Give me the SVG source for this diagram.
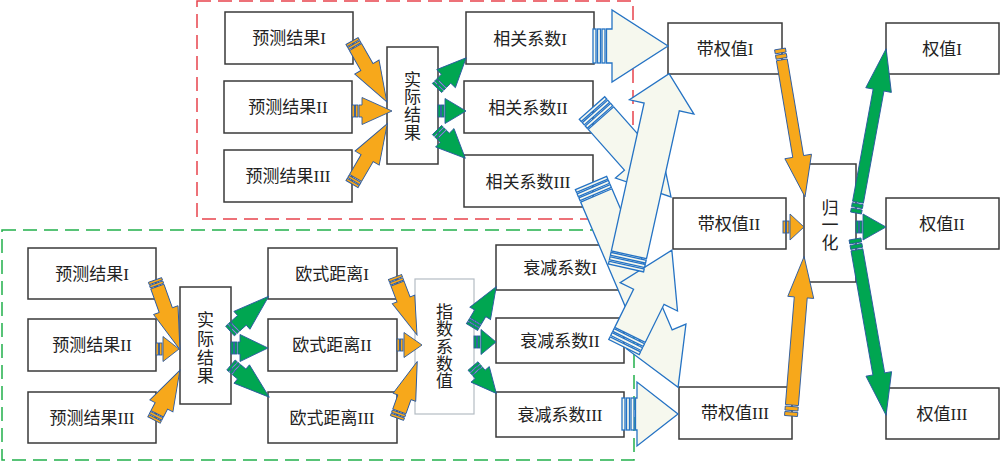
<svg xmlns="http://www.w3.org/2000/svg" width="1000" height="461" viewBox="0 0 1000 461">
<style>
.box{fill:#fff;stroke:#3a3a3a;stroke-width:1.5}
.gbox{fill:#fff;stroke:#b4bcc4;stroke-width:1.2}
.t{font-family:"Liberation Serif","Noto Sans CJK SC",serif;font-size:17px;fill:#222;text-anchor:middle}
.lt{fill:#f6f8ee;stroke:#2573c4;stroke-width:1.3;stroke-linejoin:miter}
.or{fill:#f7a81b;stroke:#2b5aa0;stroke-width:0.9}
.gr{fill:#00a651;stroke:#2b5aa0;stroke-width:0.9}
.dash{fill:none;stroke-width:1.5;stroke-dasharray:14 7}
</style>
<rect width="1000" height="461" fill="#fff"/>
<rect class="dash" x="197" y="1" width="436" height="218" stroke="#e8434c"/>
<rect class="dash" x="2" y="230" width="632" height="230" stroke="#22b04b"/>

<g id="nodes">
<g id="p1t"><rect class="box" x="225" y="12" width="128" height="52"/><text class="t" x="289" y="44">预测结果I</text></g>
<g id="p2t"><rect class="box" x="224" y="81" width="128" height="52"/><text class="t" x="288" y="113">预测结果II</text></g>
<g id="p3t"><rect class="box" x="224" y="150" width="128" height="52"/><text class="t" x="288" y="182">预测结果III</text></g>
<g id="actt"><rect class="box" x="387" y="47" width="51" height="117"/><text class="t" x="412.5"><tspan x="412.5" y="85.5">实</tspan><tspan x="412.5" y="103.3">际</tspan><tspan x="412.5" y="121.1">结</tspan><tspan x="412.5" y="138.9">果</tspan></text></g>
<g id="c1"><rect class="box" x="466" y="12" width="128" height="52"/><text class="t" x="530" y="45">相关系数I</text></g>
<g id="c2"><rect class="box" x="464" y="81" width="129" height="52"/><text class="t" x="528" y="114">相关系数II</text></g>
<g id="c3"><rect class="box" x="464" y="155" width="129" height="52"/><text class="t" x="528" y="188">相关系数III</text></g>
<g id="w1"><rect class="box" x="668" y="23" width="114" height="51"/><text class="t" x="725" y="55">带权值I</text></g>
<g id="w2"><rect class="box" x="673" y="198" width="113" height="51"/><text class="t" x="729" y="230">带权值II</text></g>
<g id="w3"><rect class="box" x="679" y="387" width="113" height="52"/><text class="t" x="735" y="419">带权值III</text></g>
<g id="norm"><rect class="box" x="804" y="164" width="52" height="118"/><text class="t" x="830"><tspan x="830" y="213.5">归</tspan><tspan x="830" y="231">一</tspan><tspan x="830" y="249">化</tspan></text></g>
<g id="q1"><rect class="box" x="886" y="23" width="113" height="51"/><text class="t" x="942" y="55">权值I</text></g>
<g id="q2"><rect class="box" x="886" y="198" width="113" height="51"/><text class="t" x="942" y="230">权值II</text></g>
<g id="q3"><rect class="box" x="886" y="388" width="113" height="51"/><text class="t" x="942" y="420">权值III</text></g>
<g id="p1b"><rect class="box" x="28" y="248" width="128" height="51"/><text class="t" x="92" y="280">预测结果I</text></g>
<g id="p2b"><rect class="box" x="28" y="319" width="128" height="52"/><text class="t" x="92" y="351">预测结果II</text></g>
<g id="p3b"><rect class="box" x="28" y="392" width="128" height="51"/><text class="t" x="92" y="424">预测结果III</text></g>
<g id="actb"><rect class="box" x="180" y="287" width="51" height="117"/><text class="t" x="205.5"><tspan x="205.5" y="325.5">实</tspan><tspan x="205.5" y="344.5">际</tspan><tspan x="205.5" y="363.5">结</tspan><tspan x="205.5" y="381.5">果</tspan></text></g>
<g id="e1"><rect class="box" x="268" y="248" width="129" height="51"/><text class="t" x="332" y="280">欧式距离I</text></g>
<g id="e2"><rect class="box" x="268" y="319" width="129" height="52"/><text class="t" x="332" y="351">欧式距离II</text></g>
<g id="e3"><rect class="box" x="268" y="392" width="129" height="51"/><text class="t" x="332" y="424">欧式距离III</text></g>
<g id="idx"><rect class="gbox" x="415" y="279" width="59" height="135"/><text class="t" x="444.5"><tspan x="444.5" y="318">指</tspan><tspan x="444.5" y="335.3">数</tspan><tspan x="444.5" y="352.5">系</tspan><tspan x="444.5" y="369.8">数</tspan><tspan x="444.5" y="387">值</tspan></text></g>
<g id="d1"><rect class="box" x="496" y="245" width="128" height="45"/><text class="t" x="560" y="274">衰减系数I</text></g>
<g id="d2"><rect class="box" x="496" y="318" width="128" height="45"/><text class="t" x="560" y="347">衰减系数II</text></g>
<g id="d3"><rect class="box" x="496" y="392" width="128" height="45"/><text class="t" x="560" y="421">衰减系数III</text></g>
</g>

<g id="connectors">
<!-- light block arrows -->
<g class="lt" transform="translate(591,183) rotate(66.9)"><rect x="0" y="-17" width="3" height="34"/><rect x="4.5" y="-17" width="3" height="34"/><rect x="9" y="-17" width="3" height="34"/><polygon points="13.5,-17 167,-17 167,-32 222,0 167,32 167,17 13.5,17"/></g>
<g class="lt" transform="translate(592,108) rotate(48.4)"><rect x="0" y="-17" width="3" height="34"/><rect x="4.5" y="-17" width="3" height="34"/><rect x="9" y="-17" width="3" height="34"/><polygon points="13.5,-17 68,-17 68,-29 119,0 68,29 68,17 13.5,17"/></g>
<g class="lt" transform="translate(624,347) rotate(-63.7)"><rect x="0" y="-17" width="3" height="34"/><rect x="4.5" y="-17" width="3" height="34"/><rect x="9" y="-17" width="3" height="34"/><polygon points="13.5,-17 56,-17 56,-32 108,0 56,32 56,17 13.5,17"/></g>
<g class="lt" transform="translate(626,268) rotate(-77.5)"><rect x="0" y="-18" width="3" height="36"/><rect x="4.5" y="-18" width="3" height="36"/><rect x="9" y="-18" width="3" height="36"/><polygon points="13.5,-18 165,-18 165,-33 199,0 165,33 165,18 13.5,18"/></g>
<g class="lt" transform="translate(593,46)"><rect x="0" y="-17" width="3" height="34"/><rect x="4.5" y="-17" width="3" height="34"/><rect x="9" y="-17" width="3" height="34"/><polygon points="13.5,-17 19,-17 19,-36 75,0 19,36 19,17 13.5,17"/></g>
<g class="lt" transform="translate(622,414)"><rect x="0" y="-16" width="3" height="32"/><rect x="4.5" y="-16" width="3" height="32"/><rect x="9" y="-16" width="3" height="32"/><polygon points="13.5,-16 15,-16 15,-32 56,0 15,32 15,16 13.5,16"/></g>

<!-- top orange -->
<g class="or" transform="translate(352,41) rotate(60.2)"><rect x="0" y="-7" width="2.5" height="14"/><rect x="3.5" y="-7" width="2.5" height="14"/><polygon points="7,-7 30,-7 30,-14 70,0 30,14 30,7 7,7"/></g>
<g class="or" transform="translate(352,111)"><rect x="0" y="-6" width="2.5" height="12"/><rect x="3.5" y="-6" width="2.5" height="12"/><polygon points="7,-6 10,-6 10,-13.5 40,0 10,13.5 10,6 7,6"/></g>
<g class="or" transform="translate(352,184) rotate(-59.7)"><rect x="0" y="-7" width="2.5" height="14"/><rect x="3.5" y="-7" width="2.5" height="14"/><polygon points="7,-7 30,-7 30,-14 70,0 30,14 30,7 7,7"/></g>
<!-- top green -->
<g class="gr" transform="translate(437,88) rotate(-46)"><rect x="0" y="-6.5" width="2.5" height="13"/><rect x="3.5" y="-6.5" width="2.5" height="13"/><polygon points="7,-6.5 13,-6.5 13,-13 42,0 13,13 13,6.5 7,6.5"/></g>
<g class="gr" transform="translate(438,111)"><rect x="0" y="-6" width="2.5" height="12"/><rect x="3.5" y="-6" width="2.5" height="12"/><polygon points="7,-6 7,-12.5 28,0 7,12.5 7,6"/></g>
<g class="gr" transform="translate(437,130) rotate(45)"><rect x="0" y="-6.5" width="2.5" height="13"/><rect x="3.5" y="-6.5" width="2.5" height="13"/><polygon points="7,-6.5 11,-6.5 11,-13 40,0 11,13 11,6.5 7,6.5"/></g>

<!-- bottom left orange -->
<g class="or" transform="translate(155,280) rotate(70.3)"><rect x="0" y="-7" width="2.5" height="14"/><rect x="3.5" y="-7" width="2.5" height="14"/><polygon points="7,-7 32,-7 32,-13 74,0 32,13 32,7 7,7"/></g>
<g class="or" transform="translate(156,349)"><rect x="0" y="-6" width="2.5" height="12"/><rect x="3.5" y="-6" width="2.5" height="12"/><polygon points="7,-6 7,-12.5 23,0 7,12.5 7,6"/></g>
<g class="or" transform="translate(154,420) rotate(-62.5)"><rect x="0" y="-7" width="2.5" height="14"/><rect x="3.5" y="-7" width="2.5" height="14"/><polygon points="7,-7 16,-7 16,-13 56,0 16,13 16,7 7,7"/></g>
<!-- bottom left green -->
<g class="gr" transform="translate(230,331) rotate(-41.9)"><rect x="0" y="-6.5" width="2.5" height="13"/><rect x="3.5" y="-6.5" width="2.5" height="13"/><polygon points="7,-6.5 16,-6.5 16,-12 52,0 16,12 16,6.5 7,6.5"/></g>
<g class="gr" transform="translate(231,348)"><rect x="0" y="-6" width="2.5" height="12"/><rect x="3.5" y="-6" width="2.5" height="12"/><polygon points="7,-6 9,-6 9,-13.5 37,0 9,13.5 9,6 7,6"/></g>
<g class="gr" transform="translate(231,365) rotate(40.1)"><rect x="0" y="-6.5" width="2.5" height="13"/><rect x="3.5" y="-6.5" width="2.5" height="13"/><polygon points="7,-6.5 14,-6.5 14,-12 50,0 14,12 14,6.5 7,6.5"/></g>

<!-- bottom middle orange -->
<g class="or" transform="translate(395,277) rotate(69.2)"><rect x="0" y="-7" width="2.5" height="14"/><rect x="3.5" y="-7" width="2.5" height="14"/><polygon points="7,-7 24,-7 24,-12 62,0 24,12 24,7 7,7"/></g>
<g class="or" transform="translate(397,345)"><rect x="0" y="-6" width="2.5" height="12"/><rect x="3.5" y="-6" width="2.5" height="12"/><polygon points="7,-6 7,-12.5 25,0 7,12.5 7,6"/></g>
<g class="or" transform="translate(397,418) rotate(-70.3)"><rect x="0" y="-7" width="2.5" height="14"/><rect x="3.5" y="-7" width="2.5" height="14"/><polygon points="7,-7 22,-7 22,-12 60,0 22,12 22,7 7,7"/></g>
<!-- bottom middle green -->
<g class="gr" transform="translate(472,327) rotate(-59)"><rect x="0" y="-6.5" width="2.5" height="13"/><rect x="3.5" y="-6.5" width="2.5" height="13"/><polygon points="7,-6.5 16,-6.5 16,-12 47,0 16,12 16,6.5 7,6.5"/></g>
<g class="gr" transform="translate(474,342)"><rect x="0" y="-6" width="2.5" height="12"/><rect x="3.5" y="-6" width="2.5" height="12"/><polygon points="7,-6 7,-12.5 22,0 7,12.5 7,6"/></g>
<g class="gr" transform="translate(473,366) rotate(49.6)"><rect x="0" y="-6.5" width="2.5" height="13"/><rect x="3.5" y="-6.5" width="2.5" height="13"/><polygon points="7,-6.5 11,-6.5 11,-12 36,0 11,12 11,6.5 7,6.5"/></g>

<!-- right orange -->
<g class="or" transform="translate(780,49) rotate(80.4)"><rect x="0" y="-5.5" width="4" height="11"/><rect x="5.5" y="-5.5" width="4" height="11"/><polygon points="11,-5.5 109,-5.5 109,-13.5 150,0 109,13.5 109,5.5 11,5.5"/></g>
<g class="or" transform="translate(783,227)"><rect x="0" y="-6" width="2.5" height="12"/><rect x="3.5" y="-6" width="2.5" height="12"/><polygon points="7,-6 7,-13 21,0 7,13 7,6"/></g>
<g class="or" transform="translate(791,416) rotate(-85.3)"><rect x="0" y="-6.5" width="4" height="13"/><rect x="5.5" y="-6.5" width="4" height="13"/><polygon points="11,-6.5 119,-6.5 119,-13 160,0 119,13 119,6.5 11,6.5"/></g>
<!-- right green -->
<g class="gr" transform="translate(856,213) rotate(-79.6)"><rect x="0" y="-5.5" width="4" height="11"/><rect x="5.5" y="-5.5" width="4" height="11"/><polygon points="11,-5.5 125,-5.5 125,-13 167,0 125,13 125,5.5 11,5.5"/></g>
<g class="gr" transform="translate(856,227)"><rect x="0" y="-6" width="2.5" height="12"/><rect x="3.5" y="-6" width="2.5" height="12"/><polygon points="7,-6 7,-13 30,0 7,13 7,6"/></g>
<g class="gr" transform="translate(855,239) rotate(80)"><rect x="0" y="-6" width="4" height="12"/><rect x="5.5" y="-6" width="4" height="12"/><polygon points="11,-6 137,-6 137,-13 179,0 137,13 137,6 11,6"/></g>
</g>
</svg>
